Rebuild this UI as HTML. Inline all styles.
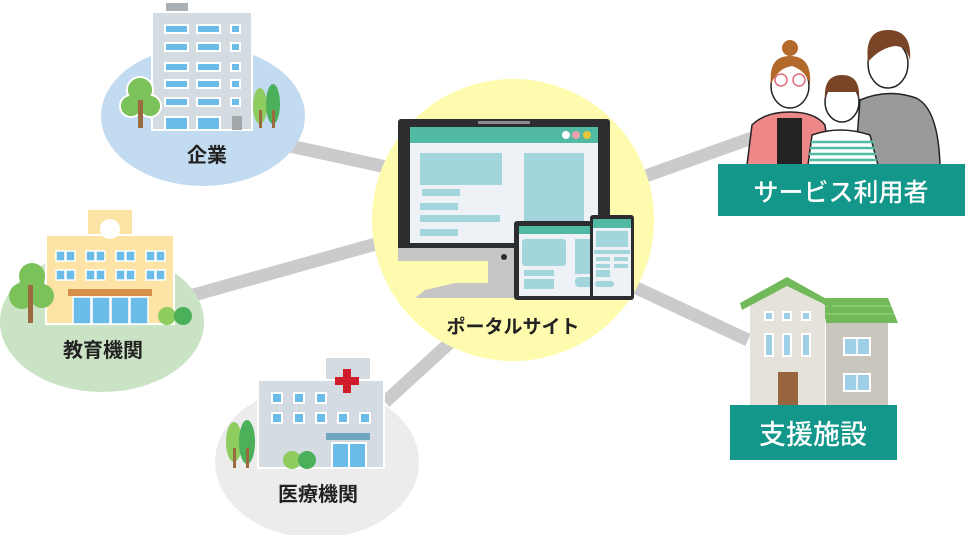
<!DOCTYPE html>
<html><head><meta charset="utf-8"><style>
html,body{margin:0;padding:0;background:#fff;}
svg{display:block}
text{font-family:"Liberation Sans","Noto Sans CJK JP",sans-serif;font-weight:bold;}
</style></head><body>
<svg width="965" height="535" viewBox="0 0 965 535" xmlns="http://www.w3.org/2000/svg">
<g stroke="#cbcbcb" stroke-width="13" stroke-linecap="butt">
<line x1="290" y1="146" x2="400" y2="170"/>
<line x1="190" y1="296" x2="390" y2="240"/>
<line x1="385" y1="402" x2="455" y2="338"/>
<line x1="640" y1="178" x2="752" y2="138"/>
<line x1="630" y1="285" x2="748" y2="340"/>
</g>
<ellipse cx="203" cy="116" rx="102" ry="70" fill="#c3dbf1"/>
<ellipse cx="102" cy="322" rx="102" ry="70" fill="#c9e3c4"/>
<ellipse cx="317" cy="462" rx="102" ry="76" fill="#ececec"/>
<circle cx="513" cy="220" r="141" fill="#fffbae"/>

<!-- office -->
<rect x="166" y="3" width="22" height="10" fill="#a9b0b5"/>
<rect x="152" y="12" width="100" height="118" fill="#d4dce2" stroke="#fff" stroke-width="2"/>
<g fill="#6cbce9" stroke="#fff" stroke-width="2">
<rect x="165" y="25" width="23" height="8"/><rect x="197" y="25" width="23" height="8"/><rect x="231" y="25" width="9" height="8"/>
<rect x="165" y="43" width="23" height="8"/><rect x="197" y="43" width="23" height="8"/><rect x="231" y="43" width="9" height="8"/>
<rect x="165" y="63" width="23" height="8"/><rect x="197" y="63" width="23" height="8"/><rect x="231" y="63" width="9" height="8"/>
<rect x="165" y="80" width="23" height="8"/><rect x="197" y="80" width="23" height="8"/><rect x="231" y="80" width="9" height="8"/>
<rect x="165" y="98" width="23" height="8"/><rect x="197" y="98" width="23" height="8"/><rect x="231" y="98" width="9" height="8"/>
<rect x="165" y="117" width="23" height="13"/><rect x="197" y="117" width="23" height="13"/>
</g>
<rect x="232" y="116" width="10" height="14" fill="#a3a8ab"/>
<g fill="#7cc25a" stroke="#fff" stroke-width="2"><circle cx="140" cy="90" r="13"/><circle cx="131" cy="106" r="11"/><circle cx="150" cy="106" r="11"/></g>
<g fill="#7cc25a"><circle cx="140" cy="90" r="12"/><circle cx="131" cy="106" r="10"/><circle cx="150" cy="106" r="10"/><rect x="130" y="92" width="20" height="18"/></g>
<rect x="138" y="100" width="5" height="28" fill="#9c6a3f"/>
<ellipse cx="260" cy="106" rx="7" ry="18" fill="#8fcc5f"/><ellipse cx="273" cy="104" rx="7" ry="20" fill="#4caf5a"/>
<rect x="259" y="110" width="3" height="18" fill="#9c6a3f"/><rect x="272" y="110" width="3" height="18" fill="#9c6a3f"/>
<text x="207" y="162" font-size="20" text-anchor="middle" fill="#222">企業</text>

<!-- school -->
<rect x="88" y="210" width="44" height="26" fill="#fde3a6"/>
<rect x="46" y="235" width="128" height="89" fill="#fde3a6" stroke="#fff" stroke-width="2"/>
<circle cx="110" cy="229" r="10" fill="#fff"/>
<g fill="#6cbce9" stroke="#fff" stroke-width="1.5">
<rect x="56" y="251" width="9" height="10"/><rect x="66" y="251" width="9" height="10"/>
<rect x="86" y="251" width="9" height="10"/><rect x="96" y="251" width="9" height="10"/>
<rect x="116" y="251" width="9" height="10"/><rect x="126" y="251" width="9" height="10"/>
<rect x="146" y="251" width="9" height="10"/><rect x="156" y="251" width="9" height="10"/>
<rect x="56" y="270" width="9" height="10"/><rect x="66" y="270" width="9" height="10"/>
<rect x="86" y="270" width="9" height="10"/><rect x="96" y="270" width="9" height="10"/>
<rect x="116" y="270" width="9" height="10"/><rect x="126" y="270" width="9" height="10"/>
<rect x="146" y="270" width="9" height="10"/><rect x="156" y="270" width="9" height="10"/>
<rect x="73" y="297" width="18" height="27"/><rect x="92" y="297" width="18" height="27"/><rect x="111" y="297" width="18" height="27"/><rect x="130" y="297" width="18" height="27"/>
</g>
<rect x="68" y="289" width="84" height="7" fill="#d6904a"/>
<g fill="#7cc25a"><circle cx="32" cy="276" r="13"/><circle cx="22" cy="296" r="13"/><circle cx="42" cy="296" r="12"/><rect x="20" y="280" width="24" height="18"/></g>
<rect x="28" y="285" width="5" height="38" fill="#9c6a3f"/>
<circle cx="167" cy="316" r="9" fill="#8fcc5f"/><circle cx="183" cy="316" r="9" fill="#4caf5a"/>
<text x="103" y="357" font-size="20" text-anchor="middle" fill="#222">教育機関</text>

<!-- hospital -->
<rect x="326" y="358" width="44" height="24" fill="#d4dce2"/>
<rect x="258" y="380" width="126" height="88" fill="#d4dce2" stroke="#fff" stroke-width="2"/>
<rect x="343" y="369" width="8" height="24" fill="#d01c2a"/><rect x="335" y="377" width="24" height="8" fill="#d01c2a"/>
<g fill="#6cbce9" stroke="#fff" stroke-width="2">
<rect x="272" y="393" width="10" height="10"/><rect x="294" y="393" width="10" height="10"/><rect x="316" y="393" width="10" height="10"/>
<rect x="272" y="413" width="10" height="10"/><rect x="294" y="413" width="10" height="10"/><rect x="316" y="413" width="10" height="10"/><rect x="338" y="413" width="10" height="10"/><rect x="360" y="413" width="10" height="10"/>
<rect x="332" y="443" width="17" height="25"/><rect x="349" y="443" width="17" height="25"/>
</g>
<rect x="326" y="433" width="44" height="7" fill="#6ea6c0"/>
<circle cx="292" cy="460" r="9" fill="#8fcc5f"/><circle cx="307" cy="460" r="9" fill="#4caf5a"/>
<ellipse cx="234" cy="442" rx="8" ry="20" fill="#8fcc5f"/><ellipse cx="247" cy="442" rx="8" ry="22" fill="#4caf5a"/>
<rect x="233" y="448" width="3" height="20" fill="#9c6a3f"/><rect x="246" y="448" width="3" height="20" fill="#9c6a3f"/>
<text x="318" y="501" font-size="20" text-anchor="middle" fill="#222">医療機関</text>

<!-- monitor -->
<rect x="398" y="119" width="212" height="131" rx="3" fill="#2c2d2f"/>
<rect x="398" y="248" width="212" height="13" fill="#c6c6c6"/>
<rect x="478" y="121" width="52" height="3" fill="#8a8a8a"/>
<rect x="410" y="127" width="188" height="116" fill="#eef2f6"/>
<rect x="410" y="127" width="188" height="16" fill="#52b9a3"/>
<circle cx="566" cy="135" r="4" fill="#fff"/><circle cx="576" cy="135" r="4" fill="#e8a1ae"/><circle cx="587" cy="135" r="4" fill="#e6c53a"/>
<g fill="#a2d6dc">
<rect x="420" y="153" width="82" height="32"/><rect x="422" y="189" width="38" height="7"/><rect x="420" y="203" width="38" height="7"/><rect x="420" y="215" width="80" height="7"/><rect x="420" y="229" width="38" height="7"/>
<rect x="524" y="153" width="60" height="88"/>
</g>
<circle cx="504" cy="257" r="3" fill="#2c2d2f"/>
<rect x="488" y="261" width="30" height="22" fill="#c6c6c6"/>
<polygon points="455,283 520,283 520,298 415,298 425,290" fill="#c6c6c6"/>
<rect x="514" y="221" width="90" height="79" rx="3" fill="#2c2d2f"/>
<rect x="519" y="226" width="82" height="70" fill="#eef2f6"/>
<rect x="519" y="226" width="82" height="8" fill="#52b9a3"/>
<g fill="#a2d6dc"><rect x="522" y="239" width="44" height="27" rx="3"/><rect x="524" y="270" width="30" height="6"/><rect x="524" y="279" width="30" height="10"/><rect x="575" y="239" width="20" height="35"/><rect x="575" y="277" width="22" height="10" rx="4"/></g>
<rect x="590" y="215" width="44" height="85" rx="3" fill="#2c2d2f"/>
<rect x="593" y="219" width="38" height="77" fill="#eef2f6"/>
<rect x="593" y="219" width="38" height="9" fill="#52b9a3"/>
<g fill="#a2d6dc"><rect x="596" y="231" width="32" height="16"/><rect x="594" y="250" width="36" height="4"/><rect x="596" y="257" width="14" height="4"/><rect x="614" y="257" width="14" height="4"/><rect x="596" y="264" width="14" height="4"/><rect x="614" y="264" width="14" height="4"/><rect x="596" y="270" width="14" height="7"/><rect x="595" y="281" width="19" height="6" rx="3"/></g>
<text x="513" y="333" font-size="19" text-anchor="middle" fill="#222">ポータルサイト</text>

<!-- people -->
<path d="M855 165 L860 100 Q888 88 916 98 Q938 108 940 165 Z" fill="#9a9a9a" stroke="#222" stroke-width="1.5"/>
<ellipse cx="888" cy="64" rx="20" ry="24" fill="#fff" stroke="#222" stroke-width="1.5"/>
<path d="M868 62 Q864 30 888 30 Q912 30 910 60 Q906 46 895 46 Q880 48 868 62 Z" fill="#7a4526"/>
<path d="M747 165 L752 125 Q765 112 790 112 Q815 112 825 125 L830 165 Z" fill="#ee8787" stroke="#222" stroke-width="1.5"/>
<rect x="777" y="118" width="25" height="47" fill="#222"/>
<ellipse cx="790" cy="86" rx="19" ry="22" fill="#fff" stroke="#222" stroke-width="1.5"/>
<path d="M771 84 Q768 56 790 56 Q812 56 810 84 Q805 70 792 66 Q778 68 771 84 Z" fill="#b3692c"/>
<circle cx="790" cy="48" r="8" fill="#b3692c"/>
<circle cx="781" cy="80" r="6" fill="none" stroke="#e26a7a" stroke-width="1.5"/><circle cx="799" cy="80" r="6" fill="none" stroke="#e26a7a" stroke-width="1.5"/>
<path d="M808 165 L812 135 Q840 125 870 135 L878 165 Z" fill="#fff" stroke="#222" stroke-width="1.5"/>
<g stroke="#52b9a3" stroke-width="2.5"><line x1="811" y1="142" x2="874" y2="142"/><line x1="810" y1="148" x2="875" y2="148"/><line x1="809" y1="154" x2="876" y2="154"/><line x1="809" y1="160" x2="877" y2="160"/></g>
<ellipse cx="842" cy="102" rx="17" ry="20" fill="#fff" stroke="#222" stroke-width="1.5"/>
<path d="M825 100 Q823 75 842 75 Q861 75 859 100 L857 92 L827 92 Z" fill="#7a4526"/>
<rect x="718" y="164" width="247" height="52" fill="#13978a"/>
<text x="841" y="201" font-size="25" text-anchor="middle" fill="#fff" style="font-weight:500">サービス利用者</text>

<!-- house -->
<rect x="826" y="320" width="62" height="86" fill="#c8c6bd"/>
<polygon points="822,298 888,298 898,323 826,323" fill="#72b95a"/>
<g stroke="#8fcc72" stroke-width="1.5"><line x1="826" y1="306" x2="891" y2="306"/><line x1="826" y1="314" x2="894" y2="314"/></g>
<polygon points="750,305 787,284 825,305 825,406 750,406" fill="#e4e2da"/>
<polygon points="740,303 787,277 832,302 832,308 787,286 742,310" fill="#72b95a"/>
<g fill="#9fcfe6" stroke="#fff" stroke-width="2">
<rect x="765" y="312" width="8" height="8"/><rect x="783" y="312" width="8" height="8"/><rect x="802" y="312" width="8" height="8"/>
<rect x="765" y="334" width="8" height="22"/><rect x="783" y="334" width="8" height="22"/><rect x="802" y="334" width="8" height="22"/>
<rect x="844" y="338" width="26" height="17"/><rect x="844" y="374" width="26" height="17"/>
</g>
<line x1="857" y1="338" x2="857" y2="355" stroke="#fff" stroke-width="1.5"/><line x1="857" y1="374" x2="857" y2="391" stroke="#fff" stroke-width="1.5"/>
<rect x="778" y="372" width="20" height="34" fill="#98643e"/>
<rect x="730" y="405" width="167" height="55" fill="#13978a"/>
<text x="813" y="444" font-size="27" text-anchor="middle" fill="#fff" style="font-weight:500">支援施設</text>
</svg>
</body></html>
